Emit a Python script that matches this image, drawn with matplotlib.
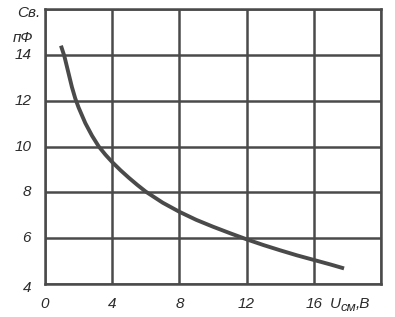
import matplotlib.pyplot as plt
import numpy as np

# Кривая ёмкости варикапа от напряжения смещения
u_cm = [0.95, 1.15, 1.4, 1.6, 1.8, 2.0, 2.4, 2.8, 3.2, 3.6, 4.0, 4.5, 5.0, 5.5, 6.0,
        7.0, 8.0, 9.0, 10.0, 11.0, 12.0, 13.0, 14.0, 15.0, 16.0, 17.0, 17.8]
c_v = [14.4, 13.95, 13.2, 12.6, 12.1, 11.7, 11.02, 10.47, 10.0, 9.64, 9.32, 8.96, 8.63,
       8.32, 8.03, 7.55, 7.15, 6.8, 6.5, 6.22, 5.95, 5.7, 5.47, 5.25, 5.05, 4.85, 4.68]

x_ticks = [0, 4, 8, 12, 16]
y_ticks = [4, 6, 8, 10, 12, 14]

ink = '#4a4a4a'
txt = '#2a2a2a'
fnt = dict(family='Liberation Sans', style='italic', fontsize=11, color=txt)

fig = plt.figure(figsize=(3.95, 3.17), dpi=100)
ax = fig.add_axes([45/395, 33/317, 336/395, 275/317])

ax.plot(u_cm, c_v, color=ink, linewidth=2.8, solid_capstyle='butt')

ax.set_xlim(0, 20)
ax.set_ylim(4, 16)
ax.set_xticks([0, 4, 8, 12, 16, 20])
ax.set_yticks([4, 6, 8, 10, 12, 14, 16])
ax.grid(True, color=ink, linewidth=1.8)
for s in ax.spines.values():
    s.set_color(ink)
    s.set_linewidth(1.8)
ax.tick_params(length=0, labelbottom=False, labelleft=False)

# подписи делений
for x in x_ticks:
    ax.annotate(str(x), (x, 4), xytext=(0, -9), textcoords='offset points',
                ha='center', va='top', **fnt)
for y in y_ticks:
    ax.annotate(str(y), (0, y), xytext=(-10, -3 if y == 4 else 0), textcoords='offset points',
                ha='right', va='center', **fnt)

# подписи осей
ax.annotate('U', (20, 4), xytext=(-37, -9), textcoords='offset points',
            ha='left', va='top', **fnt)
ax.annotate('см', (20, 4), xytext=(-29, -13), textcoords='offset points',
            ha='left', va='top', family='Liberation Sans', style='italic',
            fontsize=9.5, color=txt)
ax.annotate(',В', (20, 4), xytext=(-18, -9), textcoords='offset points',
            ha='left', va='top', **fnt)
ax.annotate('Cв.', (0, 16), xytext=(-12, 2), textcoords='offset points',
            ha='center', va='top', **fnt)
ax.annotate('пФ', (0, 16), xytext=(-16, -16), textcoords='offset points',
            ha='center', va='top', **fnt)

plt.savefig('out.png', dpi=100)
